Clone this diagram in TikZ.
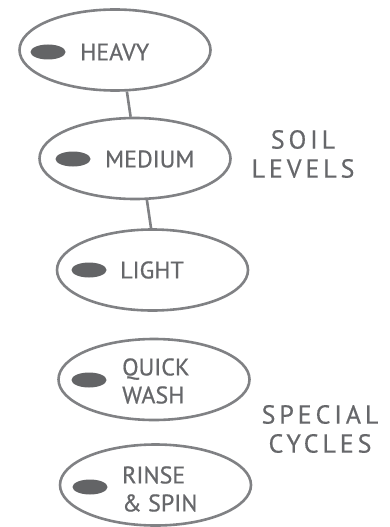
\documentclass[tikz,border=0pt]{standalone}
\usepackage{fontspec}
\setmainfont{PT Sans}
\newfontfamily\btnfont[FakeBold=0.7]{PT Sans}
\newfontfamily\groupfont[LetterSpace=15, FakeBold=0.5]{PT Sans}
\usetikzlibrary{shapes.geometric}
\definecolor{rimgray}{HTML}{808184}
\definecolor{ledgray}{HTML}{636466}
\definecolor{txtgray}{HTML}{66676A}
\tikzset{
  % buttons
  btn/.style={ellipse, draw=rimgray, line width=2.6pt, minimum width=191pt, minimum height=81pt, inner sep=0pt},
  led/.style={ellipse, fill=ledgray, minimum width=35pt, minimum height=15pt, inner sep=0pt},
  btn-label/.style={text=txtgray, font=\btnfont\fontsize{24}{28}\selectfont, align=left, inner sep=0pt, anchor=west},
  % side headings
  group-label/.style={text=txtgray, font=\groupfont\fontsize{26}{29}\selectfont, align=center, inner sep=0pt},
  link/.style={draw=rimgray, line width=2.6pt}
}

\begin{document}
\begin{tikzpicture}[x=1pt, y=-1pt]
    \useasboundingbox (0,0) rectangle (390,527);

    % soil level buttons
    \node[btn] (heavy) at (115,50) {};
    \node[led] (heavyled) at (48,52) {};
    \node[btn-label] (heavytxt) at (80,52) {HEAVY};

    \node[btn] (medium) at (135,158.5) {};
    \node[led] (mediumled) at (73,159) {};
    \node[btn-label] (mediumtxt) at (105,159) {MEDIUM};

    \node[btn] (light) at (152.5,270) {};
    \node[led] (lightled) at (89,270) {};
    \node[btn-label] (lighttxt) at (120,270) {LIGHT};

    \draw[link] (heavy.-74) -- (medium.96);
    \draw[link] (medium.-74) -- (light.92);

    \node[group-label] (soil) at (303,154) {SOIL\\LEVELS};

    % special cycle buttons
    \node[btn] (quick) at (154,379.5) {};
    \node[led] (quickled) at (89,380) {};
    \node[btn-label] (quicktxt) at (122,381) {QUICK\\WASH};

    \node[btn] (rinse) at (155.5,485) {};
    \node[led] (rinseled) at (90,487) {};
    \node[btn-label] (rinsetxt) at (122,489) {RINSE\\\& SPIN};

    \node[group-label] (special) at (320,429) {SPECIAL\\CYCLES};
\end{tikzpicture}
\end{document}
